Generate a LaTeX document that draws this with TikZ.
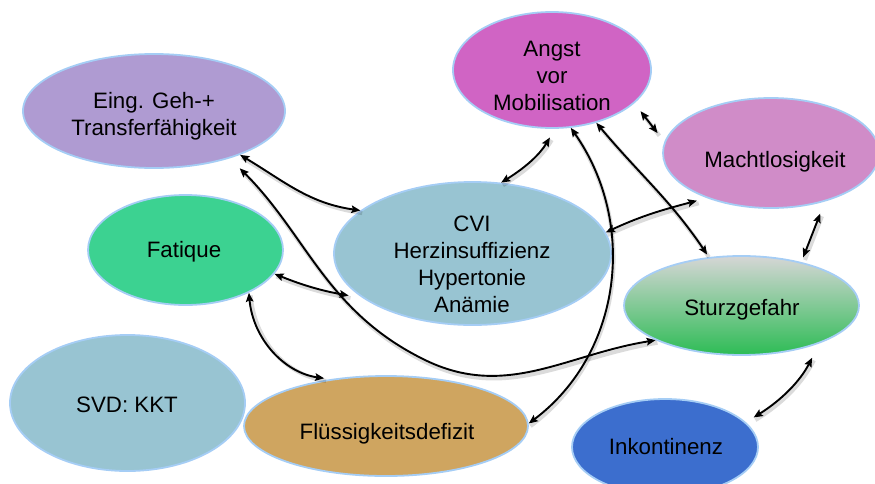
\documentclass[tikz,border=0pt]{standalone}
\usepackage{fontspec}
\setmainfont{Liberation Sans}
\usetikzlibrary{shapes.geometric,arrows.meta}
\definecolor{bordc}{RGB}{165,205,245}
\definecolor{cEing}{RGB}{175,155,210}
\definecolor{cAngst}{RGB}{208,100,196}
\definecolor{cMacht}{RGB}{208,140,200}
\definecolor{cFat}{RGB}{60,210,145}
\definecolor{cCVI}{RGB}{152,196,210}
\definecolor{cFl}{RGB}{207,165,96}
\definecolor{cInk}{RGB}{60,110,206}
\definecolor{cStTop}{RGB}{214,214,214}
\definecolor{cStBot}{RGB}{45,188,85}
\begin{document}
\begin{tikzpicture}[x=1pt,y=1pt,
  bub/.style={ellipse, draw=bordc, line width=1.8pt, inner sep=0pt},
  lbl/.style={align=center, font=\fontsize{22.3}{27}\selectfont, inner sep=0pt, text=black},
  tip/.style={Stealth[length=9pt,width=7.5pt,inset=1.5pt]},
  link/.style={line width=1.9pt, {Stealth[length=9pt,width=7.5pt,inset=1.5pt]}-{Stealth[length=9pt,width=7.5pt,inset=1.5pt]},
    preaction={draw=black, draw opacity=0.14, line width=4pt, -, transform canvas={shift={(1.8pt,-2.6pt)}}}}]
\useasboundingbox (0,0) rectangle (875,-483);
% bubbles
\node[bub, fill=cEing, minimum width=262, minimum height=114] (eing) at (154,-111) {};
\node[bub, fill=cAngst, minimum width=198, minimum height=116] (angst) at (552,-70) {};
\node[bub, fill=cMacht, minimum width=216, minimum height=110] (macht) at (771,-153) {};
\node[bub, fill=cFat, minimum width=195, minimum height=110] (fat) at (185.5,-250) {};
\node[bub, fill=cCVI, minimum width=277, minimum height=143] (cvi) at (472.5,-253.5) {};
\node[bub, top color=cStTop, bottom color=cStBot, minimum width=235, minimum height=99] (sturz) at (741.5,-305.5) {};
\node[bub, fill=cCVI, minimum width=235, minimum height=136] (svd) at (127.5,-403) {};
\node[bub, fill=cFl, minimum width=284, minimum height=100] (fl) at (386,-426) {};
\node[bub, fill=cInk, minimum width=186, minimum height=96] (ink) at (665,-447) {};
% labels
\node[lbl] (eingt) at (154,-116.5) {Eing. Geh-+\\Transferfähigkeit};
\node[lbl] (angstt) at (552,-76) {Angst\\vor\\Mobilisation};
\node[lbl] (machtt) at (775,-162) {Machtlosigkeit};
\node[lbl] (fatt) at (184,-252) {Fatique};
\node[lbl] (cvit) at (472,-264) {CVI\\Herzinsuffizienz\\Hypertonie\\Anämie};
\node[lbl] (sturzt) at (742,-310) {Sturzgefahr};
\node[lbl] (svdt) at (127,-405) {SVD: KKT};
\node[lbl] (flt) at (387,-434) {Flüssigkeitsdefizit};
\node[lbl] (inkt) at (666,-447) {Inkontinenz};
% connectors
\draw[link] (eing.-27) to[out=-31,in=172] (cvi.159);
\draw[link, shorten <=14pt] (eing.-32) to[out=-45,in=154] (425,-360) to[out=-26,in=189] (sturz.202);
\draw[link, shorten >=14pt] (fat.-15) to[out=-22,in=170] (cvi.202);
\draw[link, shorten >=6pt] (fat.-34) to[out=-85,in=172] (fl.140);
\draw[link, shorten <=10pt] (angst.-87) to[out=-121,in=32] (cvi.68);
\draw[link] (angst.-72) to[out=-55,in=37] (fl.1);
\draw[link, shorten >=3pt] (angst.-50) to[out=-50,in=124] (sturz.124);
\draw[link, shorten <=10pt, shorten >=11pt] (angst.-22) -- (macht.174);
\draw[link, shorten >=10pt] (cvi.9) to[out=25,in=195] (macht.215);
\draw[link, shorten <=13pt, shorten >=5pt] (macht.-42) -- (sturz.36);
\draw[link, shorten <=16pt, shorten >=9pt] (sturz.-26) to[out=-117,in=32] (ink.17);
\end{tikzpicture}
\end{document}
